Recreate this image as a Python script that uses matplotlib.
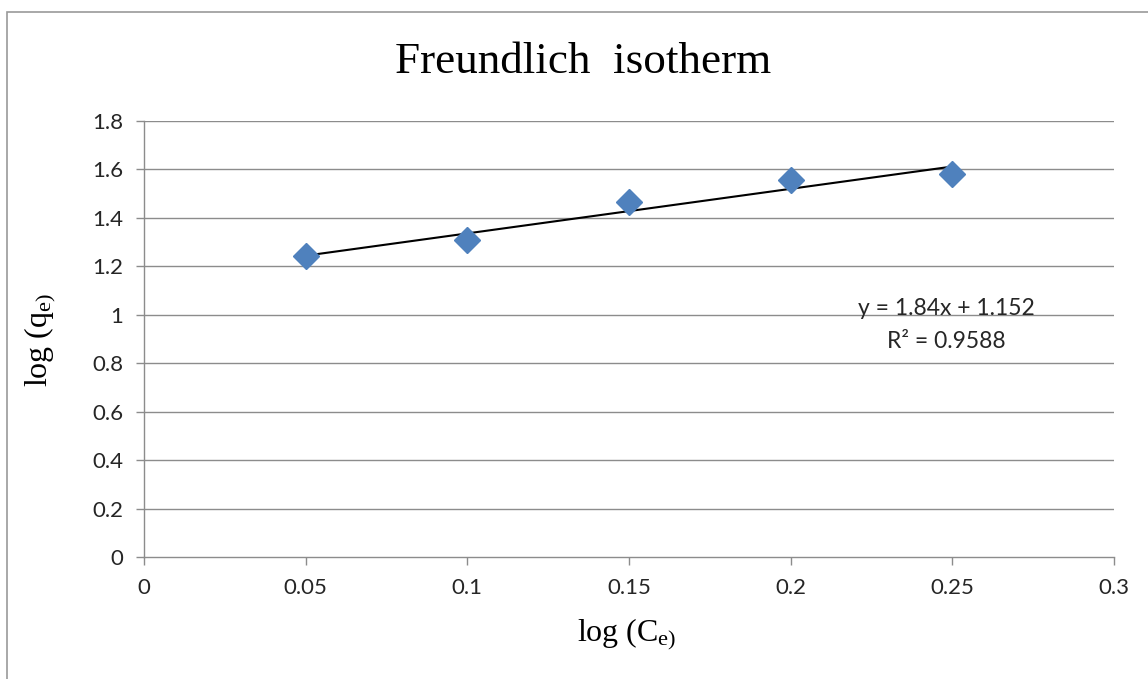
import matplotlib
matplotlib.use("Agg")
import matplotlib.pyplot as plt
from matplotlib.patches import Rectangle

x_vals = [0.05, 0.10, 0.15, 0.20, 0.25]
y_vals = [1.243, 1.309, 1.465, 1.556, 1.581]
slope = 1.84
intercept = 1.152
r_squared = 0.9588
x_ticks = [0, 0.05, 0.1, 0.15, 0.2, 0.25, 0.3]
x_tick_labels = ["0", "0.05", "0.1", "0.15", "0.2", "0.25", "0.3"]
y_ticks = [0, 0.2, 0.4, 0.6, 0.8, 1.0, 1.2, 1.4, 1.6, 1.8]
y_tick_labels = ["0", "0.2", "0.4", "0.6", "0.8", "1", "1.2", "1.4", "1.6", "1.8"]

plt.rcParams['mathtext.fontset'] = 'custom'
plt.rcParams['mathtext.rm'] = 'Liberation Serif'
plt.rcParams['mathtext.it'] = 'Liberation Serif:italic'

W, H = 1148, 679
fig = plt.figure(figsize=(W/100, H/100), dpi=100)
fig.patches.append(Rectangle((7/W, -0.1), 1.2, 1 - 12/H + 0.1, transform=fig.transFigure,
                             fill=False, edgecolor='#9a9a9a', linewidth=1.2))

ax = fig.add_axes([144/W, 1 - 557/H, (1114-144)/W, (557-121)/H])
ax.set_xlim(0, 0.3)
ax.set_ylim(0, 1.8)

grid_c = '#8c8c8c'
for yt in y_ticks[1:]:
    ax.axhline(yt, color=grid_c, linewidth=1.0, zorder=1)

gray = '#8c8c8c'
for s in ['top', 'right']:
    ax.spines[s].set_visible(False)
for s in ['left', 'bottom']:
    ax.spines[s].set_color(gray)
    ax.spines[s].set_linewidth(1.0)

tick_font = dict(family='Lato', size=16, color='#262626')
ax.set_xticks(x_ticks)
ax.set_xticklabels(x_tick_labels, fontdict=tick_font)
ax.set_yticks(y_ticks)
ax.set_yticklabels(y_tick_labels, fontdict=tick_font)
ax.tick_params(axis='both', direction='out', length=6, width=1.0, color=gray)
ax.tick_params(axis='x', pad=9)
ax.tick_params(axis='y', pad=9)

xl = [x_vals[0], x_vals[-1]]
ax.plot(xl, [slope*v + intercept for v in xl], color='black', linewidth=1.5, zorder=3)
ax.plot(x_vals, y_vals, linestyle='none', marker='D', markersize=13,
        color='#4F81BD', markeredgecolor='#4F81BD', zorder=4)

ax.text(946/W, 1 - 309/H, f"y = {slope}x + {intercept}", transform=fig.transFigure,
        ha='center', va='center', fontsize=16.5, family='Lato', color='#262626')
ax.text(946/W, 1 - 341/H, f"R\u00b2 = {r_squared}", transform=fig.transFigure,
        ha='center', va='center', fontsize=16.5, family='Lato', color='#262626')

fig.text(583/W, 1 - 62/H, "Freundlich  isotherm", ha='center', va='center',
         fontsize=32.5, family='Liberation Serif', color='black')
fig.text(627/W, 1 - 634/H, r'$\mathrm{log\ (C_{e)}}$', ha='center', va='center',
         fontsize=23, color='black')
fig.text(40/W, 1 - 340/H, r'$\mathrm{log\ (q_{e)}}$', ha='center', va='center',
         fontsize=23, color='black', rotation=90)

fig.savefig('out.png', dpi=100)
